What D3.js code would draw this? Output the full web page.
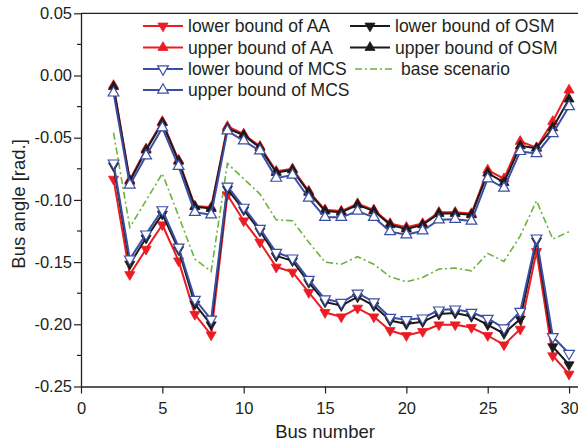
<!DOCTYPE html>
<html>
<head>
<meta charset="utf-8">
<script src="https://cdn.jsdelivr.net/npm/d3@7/dist/d3.min.js"></script>
<style>
  html, body { margin: 0; padding: 0; background: #fff; }
  svg { display: block; font-family: "Liberation Sans", Arial, sans-serif; }
</style>
</head>
<body>
<svg id="chart" width="578" height="442"></svg>
<script>
// Bus numbers (bus 1 is the slack bus and is not plotted)
const buses = d3.range(2, 31);

// Bus angle bounds in rad.
const aaLower = [-0.0833, -0.160, -0.1396, -0.120, -0.149, -0.192, -0.2085, -0.096, -0.1168, -0.134,
  -0.154, -0.158, -0.1744, -0.1905, -0.194, -0.187, -0.194, -0.205, -0.209, -0.2058,
  -0.2004, -0.2004, -0.2026, -0.209, -0.2165, -0.2039, -0.1415, -0.2253, -0.240];
const aaUpper = [-0.008, -0.084, -0.059, -0.037, -0.068, -0.105, -0.106, -0.041, -0.047, -0.057,
  -0.077, -0.075, -0.093, -0.108, -0.109, -0.103, -0.108, -0.119, -0.122, -0.119,
  -0.110, -0.110, -0.111, -0.076, -0.083, -0.053, -0.058, -0.037, -0.0117];
const osmLower = [-0.0727, -0.1516, -0.1307, -0.1114, -0.140, -0.1838, -0.2004, -0.0913, -0.108, -0.125,
  -0.145, -0.149, -0.1664, -0.182, -0.185, -0.178, -0.185, -0.197, -0.1998, -0.198,
  -0.1918, -0.191, -0.1937, -0.2004, -0.2074, -0.1958, -0.133, -0.218, -0.2325];
const osmUpper = [-0.009, -0.085, -0.060, -0.038, -0.069, -0.1055, -0.107, -0.0425, -0.048, -0.058,
  -0.078, -0.076, -0.094, -0.109, -0.110, -0.104, -0.109, -0.120, -0.1235, -0.120,
  -0.111, -0.111, -0.112, -0.0785, -0.086, -0.0565, -0.0585, -0.042, -0.019];
const mcsLower = [-0.0704, -0.1476, -0.1275, -0.108, -0.138, -0.180, -0.196, -0.089, -0.106, -0.123,
  -0.1423, -0.1468, -0.164, -0.1797, -0.1825, -0.175, -0.182, -0.1945, -0.1964, -0.195,
  -0.1886, -0.1878, -0.1905, -0.1953, -0.203, -0.1897, -0.1307, -0.210, -0.2235];
const mcsUpper = [-0.014, -0.088, -0.0645, -0.042, -0.073, -0.110, -0.112, -0.0445, -0.0525, -0.0605,
  -0.0825, -0.080, -0.0985, -0.114, -0.114, -0.109, -0.114, -0.1255, -0.128, -0.1248,
  -0.116, -0.1155, -0.117, -0.083, -0.0905, -0.061, -0.0627, -0.0466, -0.025];
const baseScenario = [-0.046, -0.122, -0.1005, -0.0788, -0.113, -0.1476, -0.1575, -0.0707, -0.083, -0.0953,
  -0.116, -0.1168, -0.134, -0.150, -0.1517, -0.1457, -0.1517, -0.1618, -0.1658, -0.1624,
  -0.1556, -0.1548, -0.157, -0.143, -0.1495, -0.1289, -0.1007, -0.1315, -0.1256];

// Axis ticks
const xTicks = [0, 5, 10, 15, 20, 25, 30];
const yTicks = [0.05, 0.00, -0.05, -0.10, -0.15, -0.20, -0.25];
const yMinorTicks = [0.025, -0.025, -0.075, -0.125, -0.175, -0.225];

const RED = "#ec1c24", BLACK = "#1a1a1a", BLUE = "#3b4ea3", GREEN = "#6cb33f", INK = "#231f20";

// Series definitions: drawn in this order (later on top)
const series = [
  { name: "lower bound of AA",  values: aaLower,  color: RED,   dir: "down", open: false },
  { name: "upper bound of AA",  values: aaUpper,  color: RED,   dir: "up",   open: false },
  { name: "lower bound of OSM", values: osmLower, color: BLACK, dir: "down", open: false },
  { name: "upper bound of OSM", values: osmUpper, color: BLACK, dir: "up",   open: false },
  { name: "lower bound of MCS", values: mcsLower, color: BLUE,  dir: "down", open: true },
  { name: "upper bound of MCS", values: mcsUpper, color: BLUE,  dir: "up",   open: true }
];

const svg = d3.select("#chart");
const plotLeft = 81, plotTop = 13.3, plotBottom = 386.5;

const x = d3.scaleLinear().domain([0, 30.55]).range([plotLeft, 578]);
const y = d3.scaleLinear().domain([-0.25, 0.05]).range([plotBottom, plotTop]);

// frame top line
svg.append("line")
  .attr("x1", plotLeft).attr("x2", 578).attr("y1", plotTop).attr("y2", plotTop)
  .attr("stroke", INK).attr("stroke-width", 1.3);

// x axis
const gx = svg.append("g").attr("transform", `translate(0,${plotBottom})`)
  .call(d3.axisBottom(x).tickValues(xTicks).tickSize(7).tickSizeOuter(0).tickFormat(d3.format("d")));
gx.select(".domain").attr("stroke", INK).attr("stroke-width", 1.3);
gx.selectAll(".tick line").attr("stroke", INK).attr("stroke-width", 1.2);
gx.selectAll(".tick text").attr("fill", INK).attr("font-size", 16.5).attr("dy", "1.05em")
  .attr("font-family", "Liberation Sans, Arial, sans-serif");

// y axis
const gy = svg.append("g").attr("transform", `translate(${plotLeft},0)`)
  .call(d3.axisLeft(y).tickValues(yTicks).tickSize(7).tickSizeOuter(0)
    .tickFormat(d => d.toFixed(2)));
gy.select(".domain").attr("stroke", INK).attr("stroke-width", 1.3);
gy.selectAll(".tick line").attr("stroke", INK).attr("stroke-width", 1.2);
gy.selectAll(".tick text").attr("fill", INK).attr("font-size", 16.5).attr("x", -9)
  .attr("font-family", "Liberation Sans, Arial, sans-serif");
// minor y ticks
gy.selectAll(".minor").data(yMinorTicks).enter().append("line")
  .attr("x1", -4).attr("x2", 0)
  .attr("y1", d => y(d)).attr("y2", d => y(d))
  .attr("stroke", INK).attr("stroke-width", 1.2);

// axis titles
svg.append("text").attr("x", (x(0) + x(30)) / 2).attr("y", 438)
  .attr("text-anchor", "middle").attr("font-size", 18.5).attr("fill", INK).text("Bus number");
svg.append("text").attr("transform", `translate(25,${(plotTop + plotBottom) / 2 + 4}) rotate(-90)`)
  .attr("text-anchor", "middle").attr("font-size", 18.5).attr("fill", INK).text("Bus angle [rad.]");

const line = d3.line().x((d, i) => x(buses[i])).y(d => y(d));
const triUp = d3.symbol(d3.symbolTriangle, 44)();
const triUpOpen = d3.symbol(d3.symbolTriangle, 50)();

function drawMarker(sel, s) {
  sel.append("path")
    .attr("d", s.open ? triUpOpen : triUp)
    .attr("transform", s.dir === "down" ? "rotate(180)" : null)
    .attr("fill", s.open ? "#fff" : s.color)
    .attr("stroke", s.color)
    .attr("stroke-width", s.open ? 1.2 : 0.8);
}

const plot = svg.append("g");

// base scenario (dash-dot)
plot.append("path").datum(baseScenario)
  .attr("d", line).attr("fill", "none")
  .attr("stroke", GREEN).attr("stroke-width", 1.6)
  .attr("stroke-dasharray", "7,3,2,3");

series.forEach(s => {
  const g = plot.append("g");
  g.append("path").datum(s.values).attr("d", line)
    .attr("fill", "none").attr("stroke", s.color).attr("stroke-width", 2)
    .attr("stroke-linejoin", "round");
  g.selectAll("g.m").data(s.values).enter().append("g")
    .attr("transform", (d, i) => `translate(${x(buses[i])},${y(d)})`)
    .each(function () { drawMarker(d3.select(this), s); });
});

// legend
const legendItems = [
  { s: series[0], lx: 143, ty: 26 },
  { s: series[1], lx: 143, ty: 47.5 },
  { s: series[4], lx: 143, ty: 69 },
  { s: series[5], lx: 143, ty: 90 },
  { s: series[2], lx: 350, ty: 26 },
  { s: series[3], lx: 350, ty: 47.5 }
];
const leg = svg.append("g");
legendItems.forEach(it => {
  const g = leg.append("g");
  g.append("line").attr("x1", it.lx).attr("x2", it.lx + 40).attr("y1", it.ty).attr("y2", it.ty)
    .attr("stroke", it.s.color).attr("stroke-width", 2);
  const m = g.append("g").attr("transform", `translate(${it.lx + 20},${it.ty})`);
  drawMarker(m, it.s);
  g.append("text").attr("x", it.lx + 45).attr("y", it.ty).attr("dy", "0.35em")
    .attr("font-size", 17.5).attr("fill", INK).text(it.s.name);
});
leg.append("line").attr("x1", 355).attr("x2", 393).attr("y1", 69).attr("y2", 69)
  .attr("stroke", GREEN).attr("stroke-width", 1.6).attr("stroke-dasharray", "7,3,2,3");
leg.append("text").attr("x", 401).attr("y", 69).attr("dy", "0.35em")
  .attr("font-size", 17.5).attr("fill", INK).text("base scenario");
</script>
</body>
</html>
